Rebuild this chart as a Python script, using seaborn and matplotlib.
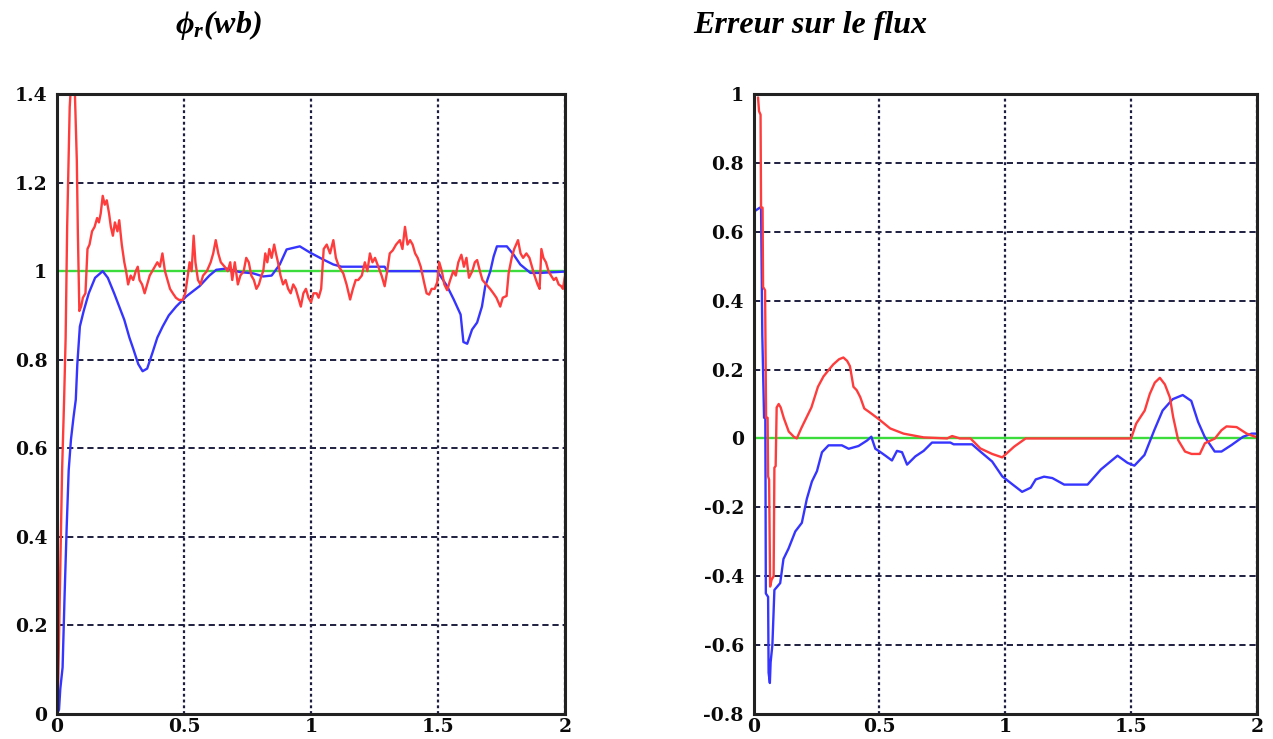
import numpy as np
import pandas as pd
import matplotlib
matplotlib.use("Agg")
import matplotlib.pyplot as plt
import seaborn as sns

# ---------------- data ----------------
x_ticks = [0, 0.5, 1, 1.5, 2]
x_tick_labels = ["0", "0.5", "1", "1.5", "2"]
phi_ticks = [0, 0.2, 0.4, 0.6, 0.8, 1.0, 1.2, 1.4]
phi_tick_labels = ["0", "0.2", "0.4", "0.6", "0.8", "1", "1.2", "1.4"]
err_ticks = [-0.8, -0.6, -0.4, -0.2, 0, 0.2, 0.4, 0.6, 0.8, 1.0]
err_tick_labels = ["-0.8", "-0.6", "-0.4", "-0.2", "0", "0.2", "0.4", "0.6", "0.8", "1"]

title_left = "ϕ$_{r}$(wb)"
title_right = "Erreur sur le flux"

t_ref = [0, 2]
phi_ref = [1, 1]
err_ref = [0, 0]

t_phi_red = [0, 0.005, 0.012, 0.020, 0.028, 0.034, 0.040, 0.050, 0.058, 0.068, 0.072, 0.078,
             0.082, 0.088, 0.095, 0.102, 0.112, 0.120, 0.128, 0.138, 0.148, 0.158, 0.165, 0.172,
             0.180, 0.188, 0.196, 0.205, 0.212, 0.220, 0.228, 0.238, 0.245, 0.255, 0.265, 0.272,
             0.280, 0.290, 0.300, 0.310, 0.318, 0.325, 0.335, 0.345, 0.355, 0.365, 0.375, 0.385,
             0.395, 0.405, 0.415, 0.425, 0.435, 0.445, 0.456, 0.468, 0.480, 0.495, 0.505, 0.515,
             0.522, 0.530, 0.538, 0.545, 0.555, 0.565, 0.575, 0.590, 0.605, 0.615, 0.625, 0.635,
             0.645, 0.660, 0.672, 0.682, 0.690, 0.700, 0.712, 0.722, 0.735, 0.745, 0.755, 0.765,
             0.775, 0.785, 0.795, 0.805, 0.812, 0.820, 0.828, 0.836, 0.845, 0.855, 0.862, 0.870,
             0.880, 0.890, 0.900, 0.910, 0.920, 0.930, 0.940, 0.950, 0.960, 0.970, 0.980, 0.990,
             1.000, 1.010, 1.022, 1.030, 1.040, 1.050, 1.062, 1.075, 1.088, 1.098, 1.110, 1.127,
             1.140, 1.154, 1.165, 1.176, 1.186, 1.200, 1.212, 1.222, 1.232, 1.242, 1.252, 1.265,
             1.278, 1.290, 1.300, 1.310, 1.322, 1.335, 1.350, 1.360, 1.370, 1.380, 1.390, 1.400,
             1.410, 1.420, 1.432, 1.445, 1.455, 1.465, 1.475, 1.487, 1.497, 1.505, 1.515, 1.525,
             1.536, 1.548, 1.560, 1.570, 1.580, 1.592, 1.602, 1.612, 1.622, 1.635, 1.645, 1.654,
             1.665, 1.675, 1.690, 1.705, 1.718, 1.730, 1.745, 1.755, 1.770, 1.778, 1.790, 1.800,
             1.815, 1.825, 1.835, 1.848, 1.860, 1.870, 1.880, 1.892, 1.900, 1.907, 1.915, 1.925,
             1.935, 1.945, 1.956, 1.965, 1.975, 1.985, 1.992, 2.000]
phi_red = [0, 0.08, 0.30, 0.55, 0.71, 0.85, 1.10, 1.37, 1.45, 1.45, 1.37, 1.25,
           1.09, 0.91, 0.92, 0.94, 0.95, 1.05, 1.06, 1.09, 1.10, 1.12, 1.11, 1.13,
           1.17, 1.15, 1.16, 1.13, 1.10, 1.08, 1.11, 1.09, 1.115, 1.06, 1.02, 1.00,
           0.97, 0.99, 0.98, 1.00, 1.01, 0.98, 0.97, 0.95, 0.97, 0.99, 1.00, 1.01,
           1.02, 1.01, 1.04, 1.00, 0.98, 0.96, 0.95, 0.94, 0.935, 0.935, 0.95, 0.99,
           1.02, 1.00, 1.08, 1.02, 0.98, 0.97, 0.99, 1.00, 1.02, 1.04, 1.07, 1.04,
           1.02, 1.01, 1.00, 1.02, 0.98, 1.02, 0.97, 0.99, 1.00, 1.03, 1.02, 0.99,
           0.98, 0.96, 0.97, 0.99, 1.00, 1.04, 1.02, 1.05, 1.03, 1.06, 1.04, 1.02,
           0.99, 0.97, 0.98, 0.96, 0.95, 0.97, 0.96, 0.94, 0.92, 0.95, 0.96, 0.94,
           0.93, 0.95, 0.95, 0.94, 0.96, 1.05, 1.06, 1.04, 1.07, 1.03, 1.01, 0.995,
           0.97, 0.936, 0.96, 0.98, 0.98, 0.99, 1.02, 1.00, 1.04, 1.02, 1.03, 1.01,
           0.99, 0.966, 1.00, 1.04, 1.047, 1.06, 1.07, 1.05, 1.10, 1.06, 1.07, 1.06,
           1.04, 1.03, 1.01, 0.975, 0.95, 0.947, 0.96, 0.96, 0.975, 1.02, 1.00, 0.97,
           0.957, 0.98, 1.00, 0.99, 1.02, 1.037, 1.01, 1.03, 0.985, 1.00, 1.02, 1.025,
           1.00, 0.98, 0.97, 0.96, 0.95, 0.94, 0.92, 0.94, 0.944, 0.995, 1.03, 1.05,
           1.07, 1.04, 1.03, 1.04, 1.03, 1.01, 0.99, 0.97, 0.96, 1.05, 1.03, 1.02,
           1.00, 0.99, 0.98, 0.985, 0.97, 0.966, 0.96, 0.99]

t_phi_blue = [0, 0.008, 0.013, 0.022, 0.030, 0.038, 0.046, 0.055, 0.065, 0.074, 0.080, 0.090,
              0.105, 0.125, 0.150, 0.180, 0.200, 0.225, 0.245, 0.265, 0.285, 0.300, 0.320, 0.337,
              0.355, 0.376, 0.395, 0.416, 0.440, 0.469, 0.509, 0.561, 0.600, 0.627, 0.667, 0.719,
              0.772, 0.812, 0.845, 0.877, 0.904, 0.956, 0.996, 1.049, 1.088, 1.120, 1.290, 1.300,
              1.497, 1.536, 1.562, 1.589, 1.600, 1.615, 1.634, 1.654, 1.673, 1.686, 1.706, 1.719,
              1.732, 1.771, 1.798, 1.824, 1.864, 1.903, 2.000]
phi_blue = [0, 0.01, 0.057, 0.105, 0.27, 0.42, 0.55, 0.62, 0.67, 0.71, 0.79, 0.875,
            0.91, 0.95, 0.985, 1.00, 0.985, 0.95, 0.92, 0.89, 0.85, 0.825, 0.79, 0.774,
            0.78, 0.816, 0.85, 0.875, 0.90, 0.92, 0.943, 0.966, 0.99, 1.003, 1.006, 0.998,
            0.995, 0.988, 0.99, 1.015, 1.049, 1.056, 1.042, 1.026, 1.015, 1.01, 1.01, 1.0,
            1.0, 0.966, 0.936, 0.902, 0.84, 0.836, 0.868, 0.884, 0.92, 0.966, 1.0, 1.033,
            1.056, 1.056, 1.037, 1.015, 0.996, 0.996, 0.999]

t_err_red = [0.018, 0.022, 0.028, 0.030, 0.036, 0.038, 0.046, 0.050, 0.056, 0.058, 0.062, 0.066,
             0.072, 0.080, 0.083, 0.088, 0.092, 0.100, 0.108, 0.120, 0.140, 0.160, 0.172, 0.190,
             0.210, 0.230, 0.256, 0.278, 0.300, 0.317, 0.340, 0.357, 0.372, 0.383, 0.397, 0.410,
             0.424, 0.440, 0.463, 0.496, 0.543, 0.596, 0.676, 0.769, 0.789, 0.820, 0.862, 0.901,
             0.948, 0.988, 1.035, 1.081, 1.500, 1.520, 1.554, 1.574, 1.594, 1.614, 1.634, 1.654,
             1.667, 1.687, 1.714, 1.740, 1.773, 1.793, 1.833, 1.859, 1.879, 1.919, 1.959, 2.000]
err_red = [0.99, 0.95, 0.94, 0.67, 0.67, 0.44, 0.43, 0.06, 0.06, -0.11, -0.12, -0.43,
           -0.41, -0.40, -0.085, -0.08, 0.09, 0.10, 0.09, 0.06, 0.02, 0.005, 0.0, 0.03,
           0.06, 0.09, 0.15, 0.18, 0.20, 0.215, 0.23, 0.235, 0.225, 0.21, 0.15, 0.14,
           0.12, 0.087, 0.075, 0.057, 0.029, 0.014, 0.003, 0.0, 0.007, 0.0, 0.0, -0.029,
           -0.045, -0.055, -0.024, 0.0, 0.0, 0.043, 0.081, 0.129, 0.162, 0.176, 0.157, 0.119,
           0.062, -0.005, -0.038, -0.045, -0.045, -0.014, 0.0, 0.024, 0.035, 0.033, 0.014, 0.003]

t_err_blue = [0.000, 0.003, 0.005, 0.025, 0.030, 0.035, 0.042, 0.047, 0.049, 0.058, 0.060, 0.065,
              0.068, 0.075, 0.083, 0.106, 0.119, 0.139, 0.166, 0.192, 0.212, 0.232, 0.252, 0.272,
              0.298, 0.351, 0.378, 0.417, 0.451, 0.468, 0.484, 0.497, 0.524, 0.550, 0.570, 0.590,
              0.610, 0.643, 0.676, 0.709, 0.782, 0.795, 0.868, 0.901, 0.948, 0.988, 1.028, 1.067,
              1.101, 1.121, 1.154, 1.187, 1.234, 1.327, 1.380, 1.446, 1.486, 1.513, 1.553, 1.592,
              1.625, 1.665, 1.705, 1.739, 1.766, 1.792, 1.832, 1.859, 1.899, 1.945, 1.979, 2.000]
err_blue = [0.42, 0.42, 0.66, 0.67, 0.67, 0.30, 0.06, 0.06, -0.45, -0.46, -0.68, -0.71,
            -0.65, -0.60, -0.44, -0.42, -0.35, -0.32, -0.27, -0.245, -0.175, -0.125, -0.095, -0.04,
            -0.02, -0.02, -0.03, -0.022, -0.006, 0.005, -0.03, -0.036, -0.05, -0.064, -0.036, -0.04,
            -0.076, -0.052, -0.036, -0.012, -0.012, -0.017, -0.017, -0.038, -0.067, -0.11, -0.133, -0.155,
            -0.143, -0.119, -0.111, -0.115, -0.134, -0.134, -0.09, -0.05, -0.071, -0.079, -0.048, 0.024,
            0.081, 0.114, 0.126, 0.109, 0.048, 0.005, -0.038, -0.038, -0.019, 0.005, 0.014, 0.014]

# ---------------- style ----------------
sns.set_style("white")
plt.rcParams["font.family"] = ["DejaVu Serif"]
plt.rcParams["text.color"] = "black"
plt.rcParams["mathtext.fontset"] = "custom"
plt.rcParams["mathtext.it"] = "Liberation Serif:italic:bold"
plt.rcParams["mathtext.rm"] = "Liberation Serif:bold"
plt.rcParams["mathtext.bf"] = "Liberation Serif:bold"

RED = "#ff3c3c"
BLUE = "#3535ff"
GREEN = "#3ddc3d"
GRID = "#1e1e40"

fig = plt.figure(figsize=(12.73, 7.39), dpi=100)
ax1 = fig.add_axes([57 / 1273, 1 - 714 / 739, (565 - 57) / 1273, (714 - 94) / 739])
ax2 = fig.add_axes([753.5 / 1273, 1 - 714 / 739, (1257 - 753.5) / 1273, (714 - 94) / 739])


def style_axes(ax, yticks, ylabels, ylim):
    ax.set_xlim(0, 2)
    ax.set_ylim(*ylim)
    ax.set_xticks(x_ticks)
    ax.set_xticklabels(x_tick_labels)
    ax.set_yticks(yticks)
    ax.set_yticklabels(ylabels)
    ax.set_axisbelow(True)
    ax.xaxis.grid(True, linestyle=(0, (1.3, 1.3)), color=GRID, linewidth=1.6)
    ax.yaxis.grid(True, linestyle=(0, (3.2, 2.0)), color=GRID, linewidth=1.4)
    ax.tick_params(axis="y", length=0, pad=7)
    ax.tick_params(axis="x", length=0, pad=3)
    for lab in ax.get_xticklabels() + ax.get_yticklabels():
        lab.set_fontfamily("DejaVu Serif")
        lab.set_fontweight("bold")
        lab.set_fontsize(13.5)
        lab.set_color("#0a0a0a")
    for sp in ax.spines.values():
        sp.set_color("#222222")
        sp.set_linewidth(2.2)
    ax.set_xlabel("")
    ax.set_ylabel("")


lw = 1.7
sns.lineplot(x=t_ref, y=phi_ref, ax=ax1, color=GREEN, linewidth=lw, estimator=None, sort=False)
sns.lineplot(x=t_phi_blue, y=phi_blue, ax=ax1, color=BLUE, linewidth=lw, estimator=None, sort=False)
sns.lineplot(x=t_phi_red, y=phi_red, ax=ax1, color=RED, linewidth=lw, estimator=None, sort=False)
style_axes(ax1, phi_ticks, phi_tick_labels, (0, 1.4))

sns.lineplot(x=t_ref, y=err_ref, ax=ax2, color=GREEN, linewidth=lw, estimator=None, sort=False)
sns.lineplot(x=t_err_blue, y=err_blue, ax=ax2, color=BLUE, linewidth=lw, estimator=None, sort=False)
sns.lineplot(x=t_err_red, y=err_red, ax=ax2, color=RED, linewidth=lw, estimator=None, sort=False)
style_axes(ax2, err_ticks, err_tick_labels, (-0.8, 1.0))

fig.text(175 / 1273, 1 - 25 / 739, title_left, fontfamily="Liberation Serif", fontweight="bold",
         fontstyle="italic", fontsize=23, ha="left", va="center", color="black")
fig.text(693 / 1273, 1 - 25 / 739, title_right, fontfamily="Liberation Serif", fontweight="bold",
         fontstyle="italic", fontsize=23, ha="left", va="center", color="black")

fig.savefig("out.png", dpi=100)
